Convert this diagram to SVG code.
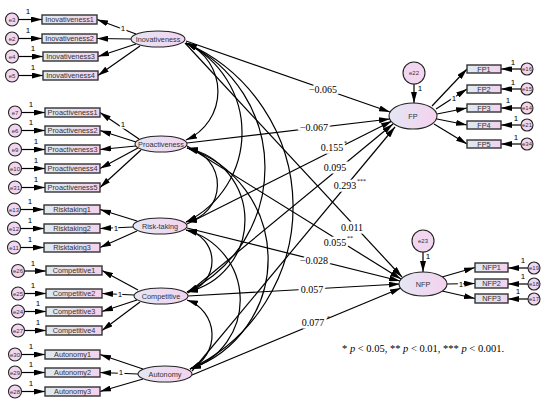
<svg xmlns="http://www.w3.org/2000/svg" width="550" height="404" viewBox="0 0 550 404">
<defs>
<linearGradient id="gl" x1="0" y1="0" x2="1" y2="0"><stop offset="0" stop-color="#e4e6f4"/><stop offset="1" stop-color="#f4d2ee"/></linearGradient>
<linearGradient id="gb" x1="0" y1="0" x2="1" y2="0"><stop offset="0" stop-color="#e0eaf0"/><stop offset="0.7" stop-color="#ead9ee"/><stop offset="1" stop-color="#f4d2ee"/></linearGradient>
<marker id="ah" viewBox="0 0 11 6" refX="11" refY="3" markerWidth="11" markerHeight="6" markerUnits="userSpaceOnUse" orient="auto-start-reverse"><path d="M0,0 L11,3 L0,6 z" fill="#000"/></marker>
</defs>
<style>
.c line,.c path{stroke:#000;stroke-width:1.2;fill:none;marker-end:url(#ah)}
.c path.cov{marker-start:url(#ah)}
.lat{fill:url(#gl);stroke:#222;stroke-width:1.1}
.box{fill:url(#gb);stroke:#333;stroke-width:1.4}
.err{fill:#f2d6f0;stroke:#222;stroke-width:1.1}
.t{font-family:"Liberation Sans",Arial,sans-serif;font-size:7.3px;fill:#333;text-anchor:middle}
.te{font-family:"Liberation Sans",Arial,sans-serif;font-size:6px;fill:#333;text-anchor:middle}
.one{font-family:"Liberation Sans",Arial,sans-serif;font-size:8px;fill:#000;text-anchor:middle;stroke:#fff;stroke-width:3;paint-order:stroke}
.v{font-family:"Liberation Serif","Times New Roman",serif;font-size:10px;fill:#000;text-anchor:middle;stroke:#fff;stroke-width:5;paint-order:stroke}
.s{font-family:"Liberation Serif","Times New Roman",serif;font-size:6px;fill:#000}
.fn{font-family:"Liberation Serif","Times New Roman",serif;font-size:10.5px;fill:#000}
</style>
<rect width="550" height="404" fill="#fff"/>
<g id="connectors" class="c">
<!-- covariances -->
<path class="cov" d="M186,43 A52.8,52.8 0 0 1 186,140"/>
<path class="cov" d="M186,43 A99.5,99.5 0 0 1 186,222"/>
<path class="cov" d="M186,43 A138,138 0 0 1 187,292"/>
<path class="cov" d="M186,43 A179,179 0 0 1 190,369"/>
<path class="cov" d="M187,148 A37.6,37.6 0 0 1 186,222"/>
<path class="cov" d="M187,148 A73.7,73.7 0 0 1 187,292"/>
<path class="cov" d="M187,148 A116.5,116.5 0 0 1 190,369"/>
<path class="cov" d="M186,230 A31.6,31.6 0 0 1 187,292"/>
<path class="cov" d="M186,230 A72.4,72.4 0 0 1 190,369"/>
<path class="cov" d="M187,300 A37.1,37.1 0 0 1 190,369"/>
<!-- structural -->
<line x1="186" y1="41" x2="390" y2="112"/>
<line x1="187" y1="143" x2="390" y2="119"/>
<line x1="187" y1="224" x2="392" y2="121"/>
<line x1="188" y1="293" x2="393" y2="124"/>
<line x1="192" y1="371" x2="395" y2="127"/>
<line x1="185" y1="43" x2="402" y2="277"/>
<line x1="187" y1="146" x2="401" y2="279"/>
<line x1="187" y1="228" x2="400" y2="281"/>
<line x1="188" y1="296" x2="400" y2="284"/>
<line x1="192" y1="375" x2="401" y2="288"/>
<!-- Inovativeness measurement -->
<line x1="136" y1="34" x2="97" y2="19.5"/>
<line x1="131" y1="39" x2="97" y2="38.5"/>
<line x1="136" y1="44" x2="98" y2="56.5"/>
<line x1="140" y1="46" x2="98" y2="75.5"/>
<line x1="18.5" y1="19.5" x2="42" y2="19.5"/>
<line x1="18.5" y1="38.5" x2="42" y2="38.5"/>
<line x1="18.5" y1="56.5" x2="43" y2="56.5"/>
<line x1="18.5" y1="75.5" x2="43" y2="75.5"/>
<!-- Proactiveness measurement -->
<line x1="139" y1="139" x2="100" y2="112.5"/>
<line x1="136" y1="142" x2="100" y2="130.5"/>
<line x1="136" y1="146" x2="100" y2="149.5"/>
<line x1="138" y1="148" x2="100" y2="168.5"/>
<line x1="141" y1="150" x2="100" y2="187.5"/>
<line x1="21.5" y1="112.5" x2="45" y2="112.5"/>
<line x1="21.5" y1="130.5" x2="45" y2="130.5"/>
<line x1="21.5" y1="149.5" x2="45" y2="149.5"/>
<line x1="21.5" y1="168.5" x2="45" y2="168.5"/>
<line x1="21.5" y1="187.5" x2="45" y2="187.5"/>
<!-- Risk-taking measurement -->
<line x1="137" y1="221" x2="100" y2="209.5"/>
<line x1="133" y1="227" x2="100" y2="228.5"/>
<line x1="137" y1="231" x2="100" y2="247.5"/>
<line x1="20.5" y1="209.5" x2="44" y2="209.5"/>
<line x1="20.5" y1="228.5" x2="44" y2="228.5"/>
<line x1="20.5" y1="247.5" x2="44" y2="247.5"/>
<!-- Competitive measurement -->
<line x1="138" y1="290" x2="102" y2="270.5"/>
<line x1="134" y1="295" x2="102" y2="293.5"/>
<line x1="137" y1="300" x2="102" y2="311.5"/>
<line x1="140" y1="302" x2="102" y2="330.5"/>
<line x1="24.5" y1="271" x2="46" y2="271"/>
<line x1="24.5" y1="293.5" x2="46" y2="293.5"/>
<line x1="24.5" y1="311.5" x2="46" y2="311.5"/>
<line x1="24.5" y1="330.5" x2="46" y2="330.5"/>
<!-- Autonomy measurement -->
<line x1="143" y1="369" x2="100" y2="354.5"/>
<line x1="138" y1="374" x2="100" y2="372.5"/>
<line x1="143" y1="379" x2="100" y2="391.5"/>
<line x1="21.5" y1="354.5" x2="45" y2="354.5"/>
<line x1="21.5" y1="372.5" x2="45" y2="372.5"/>
<line x1="21.5" y1="391.5" x2="45" y2="391.5"/>
<!-- FP -->
<line x1="414" y1="84" x2="414" y2="103"/>
<line x1="432" y1="106" x2="467" y2="69"/>
<line x1="436" y1="109" x2="467" y2="89"/>
<line x1="437" y1="114" x2="467" y2="108"/>
<line x1="437" y1="119" x2="467" y2="125"/>
<line x1="434" y1="124" x2="467" y2="144"/>
<line x1="521" y1="69" x2="501" y2="69"/>
<line x1="521" y1="89" x2="501" y2="89"/>
<line x1="521" y1="108" x2="501" y2="108"/>
<line x1="521" y1="125" x2="501" y2="125"/>
<line x1="521" y1="144" x2="501" y2="144"/>
<!-- NFP -->
<line x1="423" y1="252" x2="423" y2="272"/>
<line x1="442" y1="277" x2="475" y2="267.5"/>
<line x1="447" y1="284" x2="475" y2="283.5"/>
<line x1="442" y1="291" x2="475" y2="298.5"/>
<line x1="528" y1="268" x2="508" y2="268"/>
<line x1="528" y1="284" x2="508" y2="284"/>
<line x1="528" y1="299" x2="508" y2="299"/>
</g>
<g id="Inovativeness"><ellipse class="lat" cx="158" cy="39" rx="27" ry="8"/><text class="t" x="158" y="41.6">Inovativeness</text></g>
<g id="Proactiveness"><ellipse class="lat" cx="161" cy="144" rx="26" ry="8"/><text class="t" x="161" y="146.6">Proactiveness</text></g>
<g id="Risk-taking"><ellipse class="lat" cx="160" cy="226" rx="27" ry="8"/><text class="t" x="160" y="228.6">Risk-taking</text></g>
<g id="Competitive"><ellipse class="lat" cx="161" cy="296" rx="27" ry="8"/><text class="t" x="161" y="298.6">Competitive</text></g>
<g id="Autonomy"><ellipse class="lat" cx="165" cy="374" rx="27" ry="8"/><text class="t" x="165" y="376.6">Autonomy</text></g>
<g id="FP"><ellipse class="lat" cx="413" cy="116" rx="24" ry="13"/><text class="t" x="413" y="118.6">FP</text></g>
<g id="NFP"><ellipse class="lat" cx="423" cy="284" rx="24" ry="12"/><text class="t" x="423" y="286.6">NFP</text></g>
<g id="e22"><circle class="err" cx="414" cy="73" r="11"/><text class="te" x="414" y="75.2">e22</text></g>
<g id="e23"><circle class="err" cx="423" cy="241" r="11"/><text class="te" x="423" y="243.2">e23</text></g>
<g id="Inovativeness1"><rect class="box" x="42" y="15" width="55" height="9"/><text class="t" x="69.5" y="22">Inovativeness1</text></g>
<g id="Inovativeness2"><rect class="box" x="42" y="34" width="55" height="9"/><text class="t" x="69.5" y="41">Inovativeness2</text></g>
<g id="Inovativeness3"><rect class="box" x="43" y="52" width="55" height="9"/><text class="t" x="70.5" y="59">Inovativeness3</text></g>
<g id="Inovativeness4"><rect class="box" x="43" y="71" width="55" height="9"/><text class="t" x="70.5" y="78">Inovativeness4</text></g>
<g id="Proactiveness1"><rect class="box" x="45" y="108" width="55" height="9"/><text class="t" x="72.5" y="115">Proactiveness1</text></g>
<g id="Proactiveness2"><rect class="box" x="45" y="126" width="55" height="9"/><text class="t" x="72.5" y="133">Proactiveness2</text></g>
<g id="Proactiveness3"><rect class="box" x="45" y="145" width="55" height="9"/><text class="t" x="72.5" y="152">Proactiveness3</text></g>
<g id="Proactiveness4"><rect class="box" x="45" y="164" width="55" height="9"/><text class="t" x="72.5" y="171">Proactiveness4</text></g>
<g id="Proactiveness5"><rect class="box" x="45" y="183" width="55" height="9"/><text class="t" x="72.5" y="190">Proactiveness5</text></g>
<g id="Risktaking1"><rect class="box" x="44" y="205" width="56" height="9"/><text class="t" x="72" y="212">Risktaking1</text></g>
<g id="Risktaking2"><rect class="box" x="44" y="224" width="56" height="9"/><text class="t" x="72" y="231">Risktaking2</text></g>
<g id="Risktaking3"><rect class="box" x="44" y="243" width="56" height="9"/><text class="t" x="72" y="250">Risktaking3</text></g>
<g id="Competitive1"><rect class="box" x="46" y="266" width="56" height="9"/><text class="t" x="74" y="273">Competitive1</text></g>
<g id="Competitive2"><rect class="box" x="46" y="289" width="56" height="9"/><text class="t" x="74" y="296">Competitive2</text></g>
<g id="Competitive3"><rect class="box" x="46" y="307" width="56" height="9"/><text class="t" x="74" y="314">Competitive3</text></g>
<g id="Competitive4"><rect class="box" x="46" y="326" width="56" height="9"/><text class="t" x="74" y="333">Competitive4</text></g>
<g id="Autonomy1"><rect class="box" x="45" y="350" width="55" height="9"/><text class="t" x="72.5" y="357">Autonomy1</text></g>
<g id="Autonomy2"><rect class="box" x="45" y="368" width="55" height="9"/><text class="t" x="72.5" y="375">Autonomy2</text></g>
<g id="Autonomy3"><rect class="box" x="45" y="387" width="55" height="9"/><text class="t" x="72.5" y="394">Autonomy3</text></g>
<g id="FP1"><rect class="box" x="467" y="65" width="34" height="8"/><text class="t" x="484" y="71.6">FP1</text></g>
<g id="FP2"><rect class="box" x="467" y="85" width="34" height="8"/><text class="t" x="484" y="91.6">FP2</text></g>
<g id="FP3"><rect class="box" x="467" y="104" width="34" height="8"/><text class="t" x="484" y="110.6">FP3</text></g>
<g id="FP4"><rect class="box" x="467" y="121" width="34" height="8"/><text class="t" x="484" y="127.6">FP4</text></g>
<g id="FP5"><rect class="box" x="467" y="140" width="34" height="8"/><text class="t" x="484" y="146.6">FP5</text></g>
<g id="NFP1"><rect class="box" x="475" y="263" width="33" height="9"/><text class="t" x="491.5" y="270">NFP1</text></g>
<g id="NFP2"><rect class="box" x="475" y="279" width="33" height="9"/><text class="t" x="491.5" y="286">NFP2</text></g>
<g id="NFP3"><rect class="box" x="475" y="294" width="33" height="9"/><text class="t" x="491.5" y="301">NFP3</text></g>
<g id="e3"><circle class="err" cx="12" cy="19.5" r="6.5"/><text class="te" x="12" y="21.7">e3</text></g>
<g id="e2"><circle class="err" cx="12" cy="38.5" r="6.5"/><text class="te" x="12" y="40.7">e2</text></g>
<g id="e4"><circle class="err" cx="12" cy="56.5" r="6.5"/><text class="te" x="12" y="58.7">e4</text></g>
<g id="e5"><circle class="err" cx="12" cy="75.5" r="6.5"/><text class="te" x="12" y="77.7">e5</text></g>
<g id="e7"><circle class="err" cx="15" cy="112.5" r="6.5"/><text class="te" x="15" y="114.7">e7</text></g>
<g id="e6"><circle class="err" cx="15" cy="130.5" r="6.5"/><text class="te" x="15" y="132.7">e6</text></g>
<g id="e9"><circle class="err" cx="15" cy="149.5" r="6.5"/><text class="te" x="15" y="151.7">e9</text></g>
<g id="e10"><circle class="err" cx="15" cy="168.5" r="6.5"/><text class="te" x="15" y="170.7">e10</text></g>
<g id="e31"><circle class="err" cx="15" cy="187.5" r="6.5"/><text class="te" x="15" y="189.7">e31</text></g>
<g id="e13"><circle class="err" cx="14" cy="209.5" r="6.5"/><text class="te" x="14" y="211.7">e13</text></g>
<g id="e12"><circle class="err" cx="14" cy="228.5" r="6.5"/><text class="te" x="14" y="230.7">e12</text></g>
<g id="e11"><circle class="err" cx="14" cy="247.5" r="6.5"/><text class="te" x="14" y="249.7">e11</text></g>
<g id="e26"><circle class="err" cx="18" cy="271" r="6.5"/><text class="te" x="18" y="273.2">e26</text></g>
<g id="e25"><circle class="err" cx="18" cy="293.5" r="6.5"/><text class="te" x="18" y="295.7">e25</text></g>
<g id="e24"><circle class="err" cx="18" cy="311.5" r="6.5"/><text class="te" x="18" y="313.7">e24</text></g>
<g id="e27"><circle class="err" cx="18" cy="330.5" r="6.5"/><text class="te" x="18" y="332.7">e27</text></g>
<g id="e30"><circle class="err" cx="15" cy="354.5" r="6.5"/><text class="te" x="15" y="356.7">e30</text></g>
<g id="e29"><circle class="err" cx="15" cy="372.5" r="6.5"/><text class="te" x="15" y="374.7">e29</text></g>
<g id="e28"><circle class="err" cx="15" cy="391.5" r="6.5"/><text class="te" x="15" y="393.7">e28</text></g>
<g id="e16"><circle class="err" cx="527" cy="69" r="6"/><text class="te" x="527" y="71.2">e16</text></g>
<g id="e15"><circle class="err" cx="527" cy="89" r="6"/><text class="te" x="527" y="91.2">e15</text></g>
<g id="e14"><circle class="err" cx="527" cy="108" r="6"/><text class="te" x="527" y="110.2">e14</text></g>
<g id="e21"><circle class="err" cx="527" cy="125" r="6"/><text class="te" x="527" y="127.2">e21</text></g>
<g id="e34"><circle class="err" cx="527" cy="144" r="6"/><text class="te" x="527" y="146.2">e34</text></g>
<g id="e19"><circle class="err" cx="534" cy="268" r="6"/><text class="te" x="534" y="270.2">e19</text></g>
<g id="e18"><circle class="err" cx="534" cy="284" r="6"/><text class="te" x="534" y="286.2">e18</text></g>
<g id="e17"><circle class="err" cx="534" cy="299" r="6"/><text class="te" x="534" y="301.2">e17</text></g>
<g id="labels">
<text class="one" x="28" y="14">1</text>
<text class="one" x="28" y="33">1</text>
<text class="one" x="33" y="51">1</text>
<text class="one" x="33" y="70">1</text>
<text class="one" x="123" y="31">1</text>
<text class="one" x="31" y="107">1</text>
<text class="one" x="31" y="125">1</text>
<text class="one" x="36" y="144">1</text>
<text class="one" x="36" y="163">1</text>
<text class="one" x="36" y="182">1</text>
<text class="one" x="123" y="127">1</text>
<text class="one" x="30" y="204">1</text>
<text class="one" x="30" y="223">1</text>
<text class="one" x="30" y="242">1</text>
<text class="one" x="116" y="231">1</text>
<text class="one" x="33" y="266">1</text>
<text class="one" x="33" y="288">1</text>
<text class="one" x="38" y="306">1</text>
<text class="one" x="38" y="325">1</text>
<text class="one" x="120" y="297">1</text>
<text class="one" x="31" y="349">1</text>
<text class="one" x="31" y="367">1</text>
<text class="one" x="31" y="386">1</text>
<text class="one" x="121" y="375">1</text>
<text class="one" x="420" y="91">1</text>
<text class="one" x="454" y="101">1</text>
<text class="one" x="513" y="65">1</text>
<text class="one" x="513" y="85">1</text>
<text class="one" x="508" y="103">1</text>
<text class="one" x="516" y="121">1</text>
<text class="one" x="516" y="140">1</text>
<text class="one" x="428" y="259">1</text>
<text class="one" x="461" y="287">1</text>
<text class="one" x="523" y="263">1</text>
<text class="one" x="523" y="279">1</text>
<text class="one" x="518" y="294">1</text>
<text class="v" x="323" y="92.5">−0.065</text>
<text class="v" x="314" y="130.5">−0.067</text>
<text class="v" x="332" y="151">0.155</text>
<text class="v" x="335" y="171">0.095</text>
<text class="v" x="345" y="189">0.293</text>
<text class="v" x="352" y="231">0.011</text>
<text class="v" x="335" y="246">0.055</text>
<text class="v" x="314" y="264">−0.028</text>
<text class="v" x="312" y="293">0.057</text>
<text class="v" x="313" y="326">0.077</text>
<text class="s" x="344" y="145">*</text>
<text class="s" x="357" y="183">***</text>
<text class="s" x="347" y="240">**</text>
<text class="s" x="327" y="320">*</text>
</g>
<text class="fn" x="342" y="352">* <tspan font-style="italic">p</tspan> &lt; 0.05, ** <tspan font-style="italic">p</tspan> &lt; 0.01, *** <tspan font-style="italic">p</tspan> &lt; 0.001.</text>
</svg>
